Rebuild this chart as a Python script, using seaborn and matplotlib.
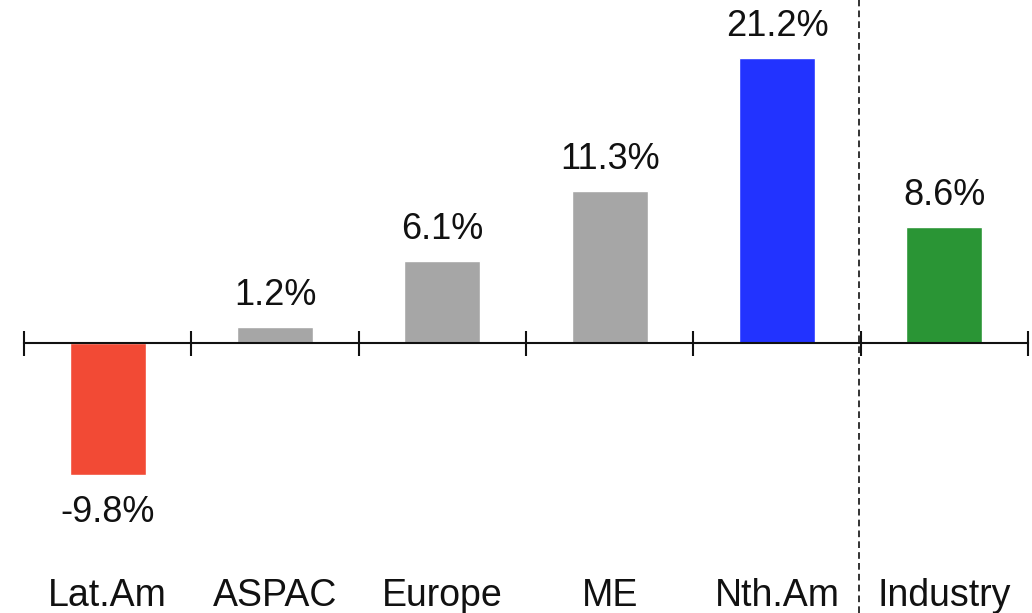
import matplotlib
matplotlib.use("Agg")
import matplotlib.pyplot as plt
import matplotlib.transforms as mtransforms
import seaborn as sns
import pandas as pd

regions = ["Lat.Am", "ASPAC", "Europe", "ME", "Nth.Am", "Industry"]
growth = [-9.8, 1.2, 6.1, 11.3, 21.2, 8.6]
bar_colors = ["#F24A35", "#A6A6A6", "#A6A6A6", "#A6A6A6", "#2233FF", "#2A9535"]

sns.set_theme(style="white")
plt.rcParams["font.family"] = ["Liberation Sans", "DejaVu Sans"]

df = pd.DataFrame({"region": regions, "growth": growth})

fig = plt.figure(figsize=(10.32, 6.13), dpi=100)
ax = fig.add_axes([24 / 1032, 0, 1004 / 1032, 1])

sns.barplot(data=df, x="region", y="growth", hue="region",
            palette=dict(zip(regions, bar_colors)), width=0.455,
            saturation=1, legend=False, ax=ax)

ax.set_xlim(-0.5, len(regions) - 0.5)
ax.set_ylim(-20.1, 25.5)
ax.set_xlabel("")
ax.set_ylabel("")
ax.set_yticks([])

for side in ("top", "left", "right"):
    ax.spines[side].set_visible(False)
ax.spines["bottom"].set_position(("data", 0))
ax.spines["bottom"].set_linewidth(1.5)
ax.spines["bottom"].set_color("#111111")
ax.spines["bottom"].set_zorder(5)

# boundary ticks crossing the zero line
ax.set_xticks([i - 0.5 for i in range(len(regions) + 1)])
ax.set_xticklabels([])
ax.tick_params(axis="x", direction="inout", length=18, width=1.5,
               color="#111111", bottom=True)

# value labels
for i, v in enumerate(growth):
    if v >= 0:
        ax.annotate(f"{v:.1f}%", (i, v), xytext=(0, 10), textcoords="offset points",
                    ha="center", va="bottom", fontsize=26, color="#111111")
    else:
        ax.annotate(f"{v:.1f}%", (i, v), xytext=(0, -15), textcoords="offset points",
                    ha="center", va="top", fontsize=26, color="#111111")

# category names along the bottom
trans = mtransforms.blended_transform_factory(ax.transData, ax.transAxes)
for i, name in enumerate(regions):
    ax.text(i, 0.012, name, transform=trans, ha="center", va="baseline",
            fontsize=27, color="#111111")

# separator between regions and the industry total
ax.axvline(4.49, ymin=0, ymax=1, color="#111111", linestyle=(0, (4, 2.5)),
           linewidth=1.2, zorder=1)

fig.savefig("out.png", dpi=100)
